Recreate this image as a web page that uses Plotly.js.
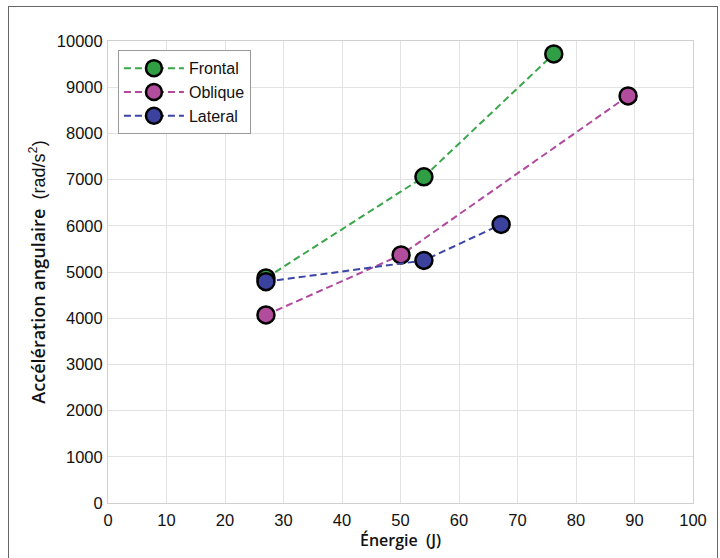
<!DOCTYPE html>
<html><head><meta charset="utf-8">
<script src="https://cdn.plot.ly/plotly-3.0.1.min.js"></script>
<style>
html,body{margin:0;padding:0;background:#fff;}
#frame{position:absolute;left:8px;top:6px;width:710px;height:560px;border:1.5px solid #666;box-sizing:border-box;pointer-events:none;z-index:10;}
</style></head>
<body>
<div id="chart" style="width:720px;height:558px;"></div>
<div id="frame"></div>
<script>
const seriesNames = ['Frontal', 'Oblique', 'Lateral'];
const frontalX = [27, 54, 76.2];
const frontalY = [4870, 7060, 9720];
const obliqueX = [27, 50.1, 88.9];
const obliqueY = [4070, 5370, 8810];
const lateralX = [27, 54, 67.2];
const lateralY = [4790, 5250, 6030];
const xTicks = [0,10,20,30,40,50,60,70,80,90,100];
const yTicks = [0,1000,2000,3000,4000,5000,6000,7000,8000,9000,10000];

const lineColors = ['#3aa64a', '#b04a9e', '#3b45a6'];
const fillColors = ['#2f9e44', '#b24c9c', '#3b429e'];
const xs = [frontalX, obliqueX, lateralX];
const ys = [frontalY, obliqueY, lateralY];

const traces = seriesNames.map((n, i) => ({
  x: xs[i], y: ys[i], name: n, type: 'scatter', mode: 'lines+markers',
  line: {color: lineColors[i], width: 2, dash: '7px,4px'},
  marker: {size: 17, color: fillColors[i], line: {color: '#000', width: 2.5}}
}));

const titleFont = {family: 'Open Sans, sans-serif', size: 16, weight: 600, color: '#111'};

const layout = {
  width: 720, height: 558,
  margin: {l: 108, r: 27, t: 41, b: 55},
  paper_bgcolor: '#fff', plot_bgcolor: '#fff',
  font: {family: 'Liberation Sans, Arial, sans-serif', size: 16, color: '#111'},
  xaxis: {
    range: [0, 100], tickvals: xTicks, ticktext: xTicks.map(String),
    showgrid: true, gridcolor: '#e3e3e3', zeroline: false,
    showline: true, linecolor: '#d0d0d0', mirror: true, ticks: '',
    tickfont: {size: 16.5}, ticklabelstandoff: 2,
    title: {text: 'Énergie  (J)', font: titleFont, standoff: 4}
  },
  yaxis: {
    range: [0, 10000], tickvals: yTicks, ticktext: yTicks.map(String),
    showgrid: true, gridcolor: '#e3e3e3', zeroline: false,
    showline: true, linecolor: '#d0d0d0', mirror: true, ticks: '',
    tickfont: {size: 16.5}, ticklabelstandoff: 1,
    title: {text: 'Accélération angulaire  <span style="font-family:Liberation Sans, Arial, sans-serif;font-weight:normal">(rad/s<sup>2</sup>)</span>', font: {family: 'Open Sans, sans-serif', size: 18, weight: 600, color: '#111'}, standoff: 6}
  },
  legend: {
    x: 0.017, y: 0.98, xanchor: 'left', yanchor: 'top',
    bgcolor: '#fff', bordercolor: '#999', borderwidth: 1,
    font: {size: 16, color: '#111'}, tracegroupgap: 0, itemwidth: 60
  },
  showlegend: true
};

Plotly.newPlot('chart', traces, layout, {displayModeBar: false, staticPlot: true});
</script>
</body></html>
